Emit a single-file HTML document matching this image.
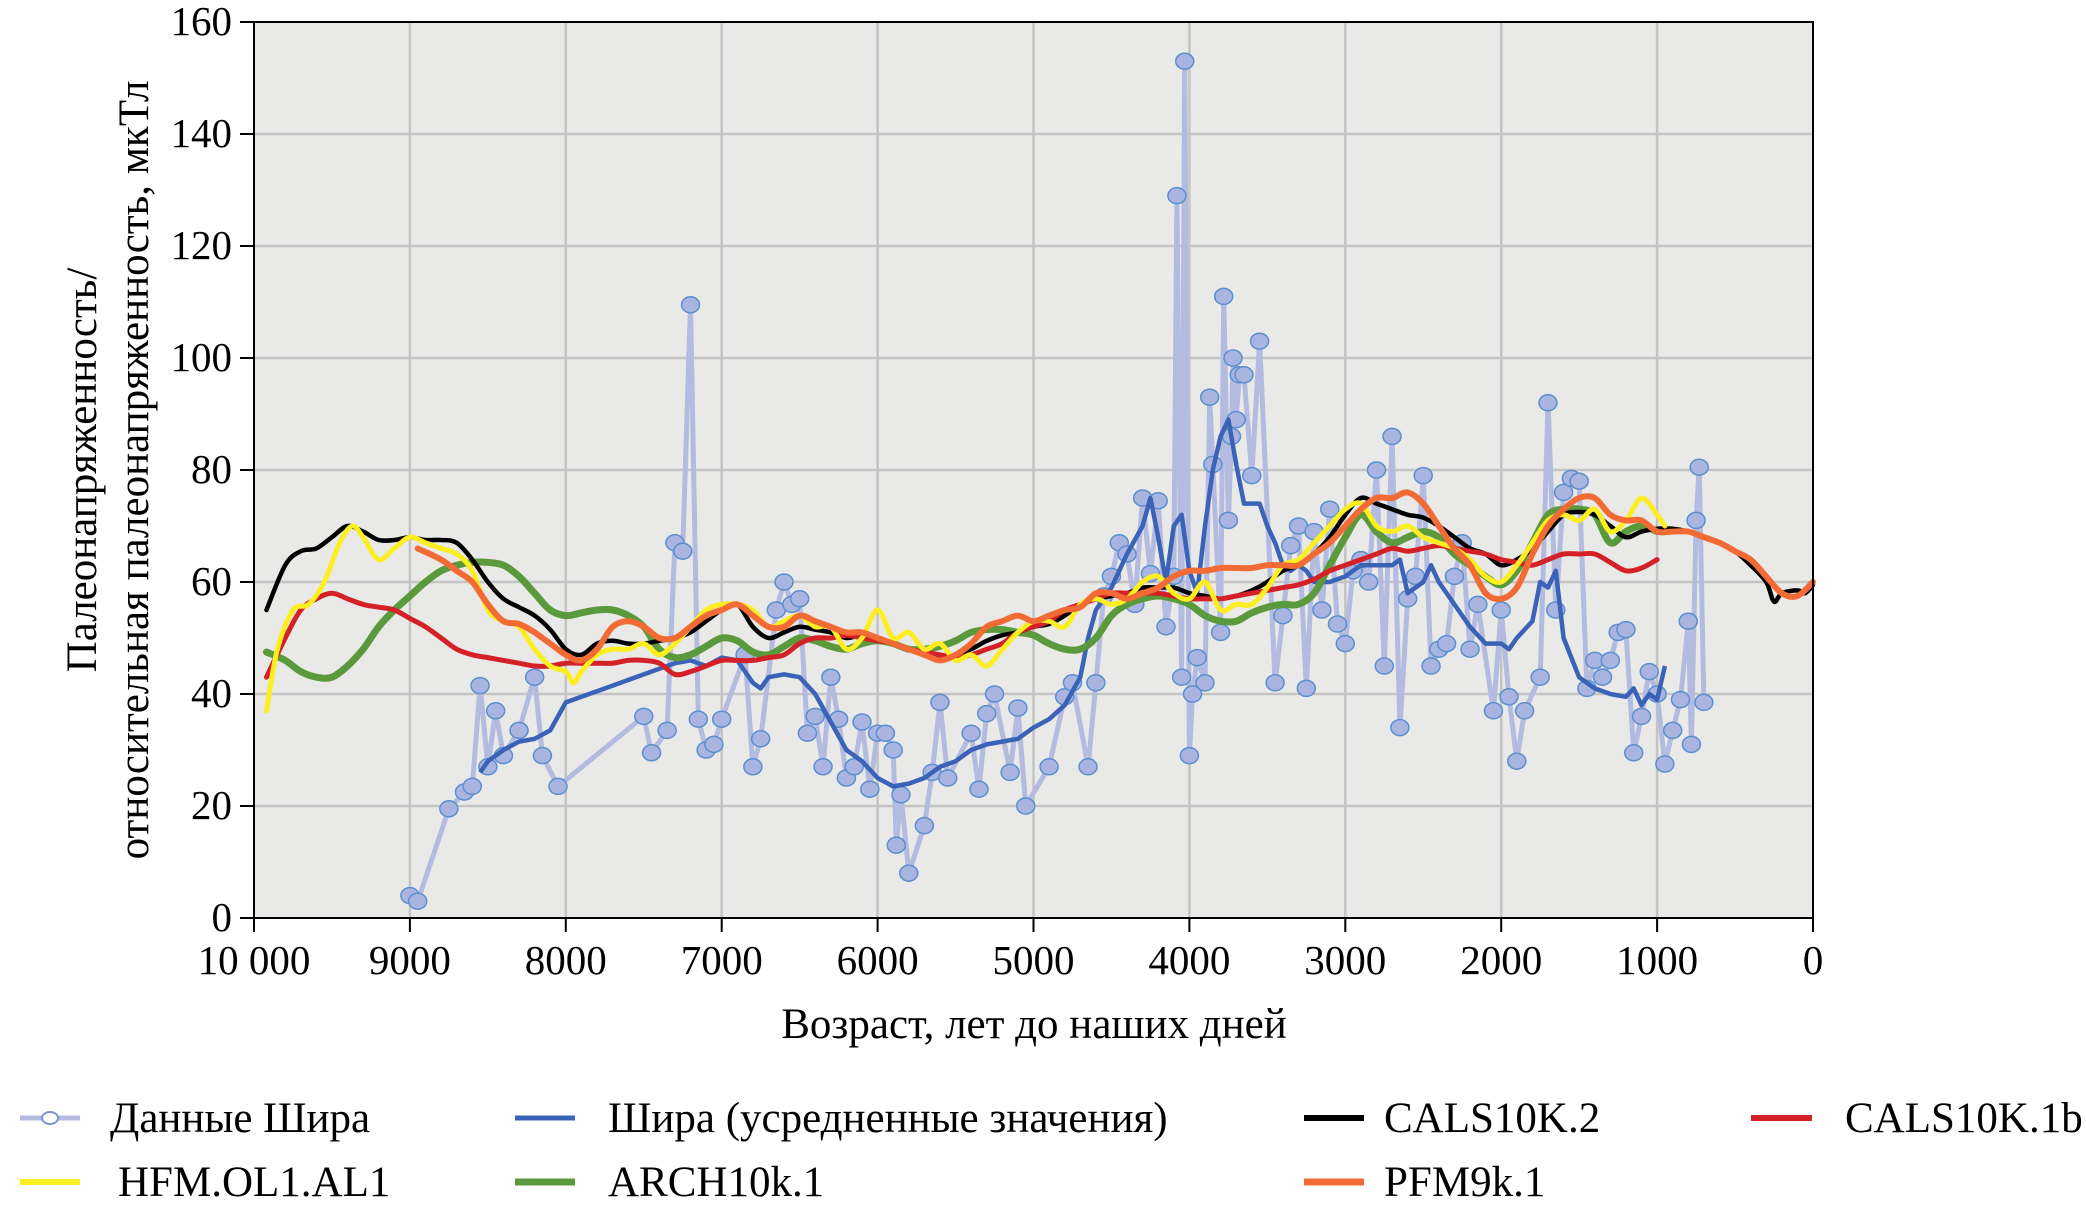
<!DOCTYPE html>
<html><head><meta charset="utf-8"><style>
html,body{margin:0;padding:0;background:#fff;}
svg{display:block;font-family:"Liberation Serif",serif;}
</style></head><body>
<svg id="chart" width="2086" height="1217" viewBox="0 0 2086 1217" xmlns="http://www.w3.org/2000/svg">
<rect x="254" y="22" width="1559" height="896" fill="#e9e9e7"/>
<g id="grid"></g>
<g id="series"></g>
<g id="axes"></g>
<text x="1034" y="1038" font-size="43" text-anchor="middle">Возраст, лет до наших дней</text>
<text transform="translate(96,470) rotate(-90)" font-size="43" text-anchor="middle">Палеонапряженность/</text>
<text transform="translate(148,470) rotate(-90)" font-size="43" text-anchor="middle">относительная палеонапряженность, мкТл</text>
<g>
<g><line x1="20" y1="1118" x2="80" y2="1118" stroke="#b3bbe0" stroke-width="5"/><ellipse cx="50" cy="1118" rx="8" ry="6" fill="#fff" stroke="#7b93cf" stroke-width="2"/><text x="110" y="1132" font-size="43">Данные Шира</text></g>
<g><line x1="515" y1="1118" x2="575" y2="1118" stroke="#3a63b8" stroke-width="5"/><text x="608" y="1132" font-size="43">Шира (усредненные значения)</text></g>
<g><line x1="1304" y1="1118" x2="1364" y2="1118" stroke="#000" stroke-width="6"/><text x="1384" y="1132" font-size="43">CALS10K.2</text></g>
<g><line x1="1751" y1="1118" x2="1812" y2="1118" stroke="#d42127" stroke-width="6"/><text x="1845" y="1132" font-size="43">CALS10K.1b</text></g>
<g><line x1="20" y1="1182" x2="80" y2="1182" stroke="#fcee21" stroke-width="6"/><text x="118" y="1196" font-size="43">HFM.OL1.AL1</text></g>
<g><line x1="515" y1="1182" x2="575" y2="1182" stroke="#5a9a3c" stroke-width="7"/><text x="608" y="1196" font-size="43">ARCH10k.1</text></g>
<g><line x1="1304" y1="1182" x2="1364" y2="1182" stroke="#f26b35" stroke-width="7"/><text x="1384" y="1196" font-size="43">PFM9k.1</text></g>
</g>
</svg>
<script>
const xTicks=[10000,9000,8000,7000,6000,5000,4000,3000,2000,1000,0];
const xTickLabels=["10 000","9000","8000","7000","6000","5000","4000","3000","2000","1000","0"];
const yTicks=[0,20,40,60,80,100,120,140,160];
const sheerAge=[9000,8950,8750,8650,8600,8550,8500,8450,8400,8300,8200,8150,8050,7500,7450,7350,7300,7250,7200,7150,7100,7050,7000,6850,6800,6750,6650,6600,6550,6500,6450,6400,6350,6300,6250,6200,6150,6100,6050,6000,5950,5900,5880,5850,5800,5700,5650,5600,5550,5400,5350,5300,5250,5150,5100,5050,4900,4800,4750,4650,4600,4550,4500,4450,4400,4350,4300,4250,4200,4150,4100,4080,4050,4030,4000,3980,3950,3900,3870,3850,3800,3780,3750,3730,3720,3700,3680,3650,3600,3550,3450,3400,3350,3300,3250,3200,3150,3100,3050,3000,2950,2900,2850,2800,2750,2700,2650,2600,2550,2500,2450,2400,2350,2300,2250,2200,2150,2050,2000,1950,1900,1850,1750,1700,1650,1600,1550,1500,1450,1400,1350,1300,1250,1200,1150,1100,1050,1000,950,900,850,800,780,750,730,700];
const sheerVal=[4,3,19.5,22.5,23.5,41.5,27,37,29,33.5,43,29,23.5,36,29.5,33.5,67,65.5,109.5,35.5,30,31,35.5,47,27,32,55,60,56,57,33,36,27,43,35.5,25,27,35,23,33,33,30,13,22,8,16.5,26,38.5,25,33,23,36.5,40,26,37.5,20,27,39.5,42,27,42,57.5,61,67,65,56,75,61.5,74.5,52,61,129,43,153,29,40,46.5,42,93,81,51,111,71,86,100,89,97,97,79,103,42,54,66.5,70,41,69,55,73,52.5,49,62,64,60,80,45,86,34,57,61,79,45,48,49,61,67,48,56,37,55,39.5,28,37,43,92,55,76,78.5,78,41,46,43,46,51,51.5,29.5,36,44,40,27.5,33.5,39,53,31,71,80.5,38.5];
const avgAge=[8550,8500,8400,8300,8200,8100,8000,7900,7800,7700,7600,7500,7400,7300,7200,7100,7000,6900,6800,6750,6700,6600,6500,6400,6300,6200,6100,6000,5900,5800,5700,5600,5500,5400,5300,5200,5100,5000,4900,4800,4700,4650,4600,4500,4400,4300,4250,4200,4150,4100,4050,4000,3950,3900,3850,3800,3750,3700,3650,3600,3550,3500,3450,3400,3350,3300,3250,3200,3100,3000,2900,2800,2700,2650,2600,2500,2450,2400,2300,2200,2100,2000,1950,1900,1800,1750,1700,1650,1600,1500,1400,1300,1200,1150,1100,1050,1000,950];
const avgVal=[26,28,30,31.5,32,33.5,38.5,39.5,40.5,41.5,42.5,43.5,44.5,45.5,46,45,46.5,46,42,41,43,43.5,43,40,35,30,28,25,23.5,24,25,27,28,30,31,31.5,32,34,35.5,38,43,50,55,59,65,70,75,68,60,70,72,62,58,70,80,86,89,81,74,74,74,70,67,63,62,63,62,60,60,61,63,63,63,64,58,60,63,60,56,52,49,49,48,50,53,60,59,62,50,43,41,40,39.5,41,38,40,39,45];
const calsAge=[9920,9800,9700,9600,9500,9400,9300,9200,9100,9000,8900,8800,8700,8600,8500,8400,8300,8200,8100,8000,7900,7800,7700,7600,7500,7400,7300,7200,7100,7000,6900,6800,6700,6600,6500,6400,6300,6200,6100,6000,5900,5800,5700,5600,5500,5400,5300,5200,5100,5000,4900,4800,4700,4600,4500,4400,4300,4200,4100,4000,3900,3800,3700,3600,3500,3400,3300,3200,3100,3000,2900,2800,2700,2600,2500,2400,2300,2200,2100,2000,1900,1800,1700,1600,1500,1400,1300,1200,1100,1000,900,800,700,600,500,400,300,250,200,100,50,0];
const calsVal=[55,63,65.5,66,68,70,69,67.5,67.5,68,67.5,67.5,67,64,60,57,55.5,54,51.5,48,47,49,49.5,49,49,49.5,50,51,53,55,56,52,50,51,52,51.5,51,50,50.5,50,49,48,47,46.5,47,48,49.5,50.5,51,52,52.5,54,56,57,57.5,58,59,59,59,58,57.5,57,57.5,58.5,60,62,63,65,68,72,75,74,73,72,71.5,70,68,66,65,63,64,66,69,72,72.5,72,70,68,69,69.5,69.5,69,68,67,65.5,63,60,56.5,58,58.5,58,59.5];
const cals1bAge=[9920,9800,9700,9600,9500,9400,9300,9200,9100,9000,8900,8800,8700,8600,8500,8400,8300,8200,8100,8000,7900,7800,7700,7600,7500,7400,7300,7200,7100,7000,6900,6800,6700,6600,6500,6400,6300,6200,6100,6000,5900,5800,5700,5600,5500,5400,5300,5200,5100,5000,4900,4800,4700,4600,4500,4400,4300,4200,4100,4000,3900,3800,3700,3600,3500,3400,3300,3200,3100,3000,2900,2800,2700,2600,2500,2400,2300,2200,2100,2000,1900,1800,1700,1600,1500,1400,1300,1200,1100,1000];
const cals1bVal=[43,50,55,57,58,57,56,55.5,55,53.5,52,50,48,47,46.5,46,45.5,45,45,45.5,45.5,45.5,45.5,46,46,45.5,43.5,44,45,46,46,46,46.5,47,49,50,50,50.5,50,49.5,49,48,47.5,47,46.5,47,48,49,51,52,53,55,56,57,58,58,58,58,57.5,57,57,57,57.5,58,58.5,59,59.5,60.5,62,63,64,65,66,65.5,66,66.5,66,65.5,65,64,63.5,63,64,65,65,65,63.5,62,62.5,64];
const hfmAge=[9920,9850,9750,9650,9550,9450,9370,9300,9200,9100,9000,8900,8800,8700,8600,8500,8400,8300,8200,8100,8000,7950,7900,7800,7700,7600,7500,7400,7300,7200,7100,7000,6900,6800,6700,6600,6500,6400,6300,6200,6100,6000,5900,5800,5700,5600,5500,5400,5300,5200,5100,5000,4900,4800,4700,4600,4500,4400,4300,4200,4100,4000,3900,3800,3700,3600,3500,3400,3300,3200,3100,3000,2900,2800,2700,2600,2500,2400,2300,2200,2100,2000,1900,1800,1700,1600,1500,1400,1300,1200,1100,1000,950];
const hfmVal=[37,48,55,56,60,67,70,68,64,66,68,67,66,65,62,55,53,52,48,45,44,42,44,47,48,48,49,47,49,52,55,56,56,55,52,53,54,52,52,48,50,55,50,51,48,49,46,47,45,48,51,53,53,52,56,57,56,57,60,61,58,57,60,55,56,56,59,63,64,67,70,73,74,70,69,70,68,67,66,64,61,60,63,67,71,72,71,73,69,71,75,72,70];
const archAge=[9920,9800,9700,9600,9500,9400,9300,9200,9100,9000,8900,8800,8700,8600,8500,8400,8300,8200,8100,8000,7900,7800,7700,7600,7500,7400,7300,7200,7100,7000,6900,6800,6700,6600,6500,6400,6300,6200,6100,6000,5900,5800,5700,5600,5500,5400,5300,5200,5100,5000,4900,4800,4700,4600,4500,4400,4300,4200,4100,4000,3900,3800,3700,3600,3500,3400,3300,3200,3100,3000,2900,2800,2700,2600,2500,2400,2300,2200,2100,2000,1900,1800,1700,1600,1500,1400,1300,1200,1100,1000];
const archVal=[47.5,46,44,43,43,45,48,52,55,57.5,60,62,63,63.5,63.5,63,61,58,55,54,54.5,55,55,54,52,48,46.5,47,48.5,50,49.5,47.5,47,48.5,50,49.5,48.5,48,49,49.5,49,48,48,48.5,49.5,51,51.5,51.5,51,50.5,49,48,48,50,54,56,57,57.5,57,56,54,53,53,54.5,55.5,56,56,58,63,68,72,69,67,68,69,68,65,63,61,59.5,62,67,72,73,73,72,67,69,70,69];
const pfmAge=[8950,8800,8700,8600,8500,8400,8300,8200,8100,8000,7900,7800,7700,7600,7500,7400,7300,7200,7100,7000,6900,6800,6700,6600,6500,6400,6300,6200,6100,6000,5900,5800,5700,5600,5500,5400,5300,5200,5100,5000,4900,4800,4700,4600,4500,4400,4300,4200,4100,4000,3900,3800,3700,3600,3500,3400,3300,3200,3100,3000,2900,2800,2700,2600,2500,2400,2300,2200,2100,2000,1900,1800,1700,1600,1500,1400,1300,1200,1100,1000,900,800,700,600,500,400,300,200,100,0];
const pfmVal=[66,64,62,60,56,53,52.5,51,49,47,46,48,52,53,52,50,50,52,54,55,56,54,52,52,54,53,52,51,51,50,49,48,47,46,47,49,52,53,54,53,54,55,55.5,58,58,57,58,59,61,62,62,62.5,62.5,62.5,63,63,63,65,67,70,73,75,75,76,74,70,66,63,58,57,59,65,70,73,75,75,72,71,71,69,69,69,68,67,65.5,64,61,58,57.5,60];

const NS="http://www.w3.org/2000/svg";
const X0=254,X1=1813,Y0=918,Y1=22;
function xs(a){return X0+(10000-a)/10000*(X1-X0);}
function ys(v){return Y0-v/160*(Y0-Y1);}
function mk(tag,attrs,parent){const e=document.createElementNS(NS,tag);for(const k in attrs)e.setAttribute(k,attrs[k]);parent.appendChild(e);return e;}
const grid=document.getElementById('grid'),axes=document.getElementById('axes'),series=document.getElementById('series');
xTicks.forEach((t,i)=>{
  if(t!==10000&&t!==0){const g=mk('line',{x1:xs(t),x2:xs(t),y1:Y1,y2:Y0,stroke:'#c4c4c4','stroke-width':2.5},grid);
  
  }
  const tk=mk('line',{x1:xs(t),x2:xs(t),y1:Y0,y2:Y0+14,stroke:'#000','stroke-width':2},axes);
  
  
  const lb=mk('text',{x:xs(t),y:Y0+56,'font-size':41,'text-anchor':'middle'},axes);
  lb.textContent=xTickLabels[i];
  
  
});
yTicks.forEach(t=>{
  if(t!==0&&t!==160){const g=mk('line',{x1:X0,x2:X1,y1:ys(t),y2:ys(t),stroke:'#c4c4c4','stroke-width':2.5},grid);
  
  }
  const tk=mk('line',{x1:X0-14,x2:X0,y1:ys(t),y2:ys(t),stroke:'#000','stroke-width':2},axes);
  
  
  const lb=mk('text',{x:X0-22,y:ys(t)+13,'font-size':41,'text-anchor':'end'},axes);
  lb.textContent=String(t);
  
  
});
const fr=mk('rect',{x:X0,y:Y1,width:X1-X0,height:Y0-Y1,fill:'none',stroke:'#000','stroke-width':2},axes);



function linePath(A,V){return A.map((a,i)=>(i?'L':'M')+xs(a).toFixed(1)+','+ys(V[i]).toFixed(1)).join('');}
function smoothPath(A,V){const p=A.map((a,i)=>[xs(a),ys(V[i])]);let d='M'+p[0][0]+','+p[0][1];
  for(let i=0;i<p.length-1;i++){const p0=p[Math.max(0,i-1)],p1=p[i],p2=p[i+1],p3=p[Math.min(p.length-1,i+2)];
    const c1=[p1[0]+(p2[0]-p0[0])/6,p1[1]+(p2[1]-p0[1])/6],c2=[p2[0]-(p3[0]-p1[0])/6,p2[1]-(p3[1]-p1[1])/6];
    d+='C'+c1[0].toFixed(1)+','+c1[1].toFixed(1)+' '+c2[0].toFixed(1)+','+c2[1].toFixed(1)+' '+p2[0].toFixed(1)+','+p2[1].toFixed(1);}
  return d;}

const sl=mk('path',{d:linePath(sheerAge,sheerVal),fill:'none',stroke:'#b3bbe0','stroke-width':5,'stroke-linejoin':'round'},series);


sheerAge.forEach((a,i)=>{
  const c=mk('ellipse',{cx:xs(a),cy:ys(sheerVal[i]),rx:9,ry:8,fill:'#a9b5e0',stroke:'#5b8fcf','stroke-width':1.5},series);
  
  
});
const av=mk('path',{d:linePath(avgAge,avgVal),fill:'none',stroke:'#3a63b8','stroke-width':4.5,'stroke-linejoin':'round'},series);


const models=[[archAge,archVal,'#5a9a3c',7,'arch10k1-line'],[calsAge,calsVal,'#000',4.5,'cals10k2-line'],[cals1bAge,cals1bVal,'#d42127',5,'cals10k1b-line'],[hfmAge,hfmVal,'#fcee21',5,'hfm-line'],[pfmAge,pfmVal,'#f26b35',6,'pfm9k1-line']];
models.forEach(m=>{
  const p=mk('path',{d:smoothPath(m[0],m[1]),fill:'none',stroke:m[2],'stroke-width':m[3],'stroke-linejoin':'round','stroke-linecap':'round'},series);
  
  
});
</script>
</body></html>
